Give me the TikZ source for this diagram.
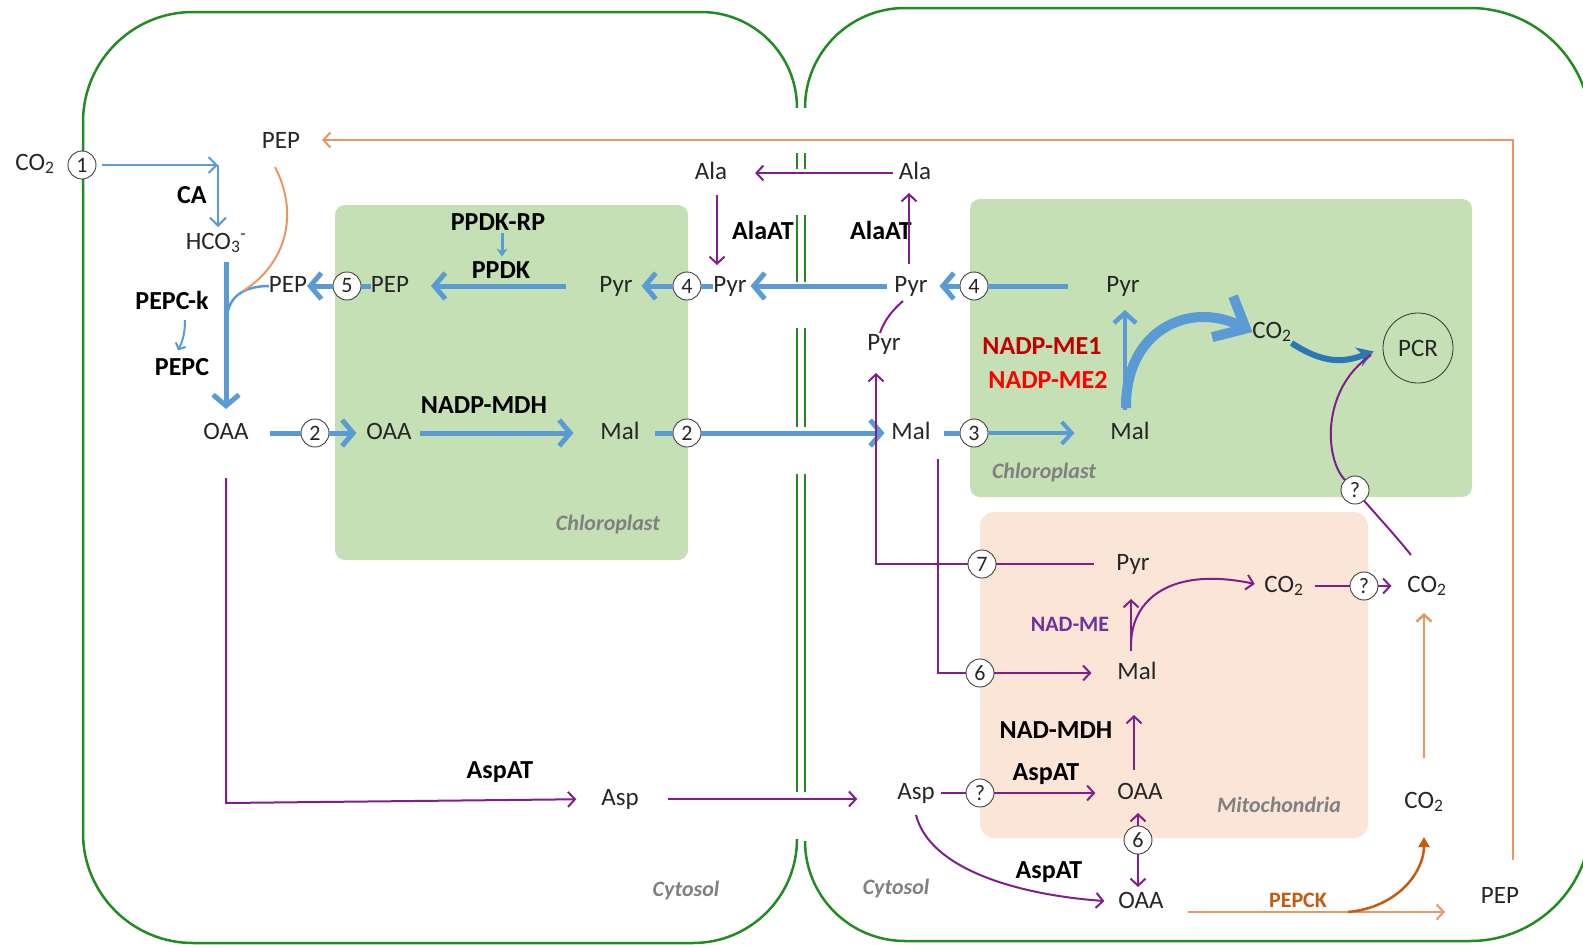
\documentclass[tikz,border=0pt]{standalone}
\usepackage{fontspec}
\setmainfont{Carlito}
\usetikzlibrary{arrows.meta}
\definecolor{cblue}{RGB}{91,155,213}
\definecolor{cdblue}{RGB}{46,117,182}
\definecolor{cpurp}{RGB}{128,30,140}
\definecolor{cpurpT}{RGB}{112,48,160}
\definecolor{corg}{RGB}{232,150,100}
\definecolor{cdorg}{RGB}{197,90,17}
\definecolor{cgreen}{RGB}{34,139,34}
\definecolor{chlfill}{RGB}{197,224,180}
\definecolor{mitfill}{RGB}{251,229,214}
\definecolor{cdred}{RGB}{192,0,0}
\definecolor{cred}{RGB}{255,0,0}
\definecolor{cgray}{RGB}{128,128,128}
\definecolor{ctext}{RGB}{38,38,38}
\begin{document}
\begin{tikzpicture}[x=1pt,y=-1pt,
  every node/.style={inner sep=0pt,outer sep=0pt},
  met/.style={font=\fontsize{25}{30}\selectfont,text=ctext,text height=17pt,text depth=5pt},
  enz/.style={font=\fontsize{26}{30}\selectfont\bfseries,text=black},
  comp/.style={font=\fontsize{22}{26}\selectfont\bfseries\itshape,text=cgray},
  num/.style={circle,draw=black!75,line width=0.9pt,fill=white,minimum size=28pt,font=\fontsize{22}{26}\selectfont,text=ctext},
  cell/.style={draw=cgreen,line width=2.5pt},
  memb/.style={draw=cgreen,line width=2pt},
  bl/.style={draw=cblue,line width=2pt},
  bla/.style={bl,-{Straight Barb[length=8pt,width=16pt]}},
  bk/.style={draw=cblue,line width=5pt},
  bka/.style={bk,-{Straight Barb[length=11pt,width=26pt]}},
  pl/.style={draw=cpurp,line width=2pt},
  pla/.style={pl,-{Straight Barb[length=7pt,width=15pt]}},
  ol/.style={draw=corg,line width=2pt},
  ola/.style={ol,-{Straight Barb[length=7pt,width=15pt]}},
]
\useasboundingbox (0,0) rectangle (1583,945);
\clip (0,0) rectangle (1583,945);

% compartments
\fill[chlfill,rounded corners=10pt] (335,205) rectangle (688,560);
\fill[chlfill,rounded corners=10pt] (970,199) rectangle (1472,497);
\fill[mitfill,rounded corners=14pt] (980,512) rectangle (1368,838);

% cells
\draw[cell] (797,108) arc[start angle=0,end angle=-90,radius=96]
  -- (193,12) arc[start angle=-90,end angle=-180,radius=110]
  -- (83,833) arc[start angle=180,end angle=90,radius=110]
  -- (693,943) arc[start angle=90,end angle=0,radius=104];
\draw[cell] (805,108) arc[start angle=180,end angle=270,radius=100]
  -- (1470,8) arc[start angle=-90,end angle=0,radius=121]
  -- (1591,820) arc[start angle=0,end angle=90,radius=121]
  -- (905,941) arc[start angle=90,end angle=180,radius=100];
\foreach \a/\b in {153/169,215/282,328/427,474/792}{
  \draw[memb] (797,\a) -- (797,\b);
  \draw[memb] (805,\a) -- (805,\b);
}

% nodes: left cell
\node[met] (co2a) at (35,164) {CO\textsubscript{2}};
\node[num] (n1) at (82,165) {1};
\node[enz] (ca) at (192,195) {CA};
\node[met] (hco3) at (216,243) {HCO\textsubscript{3}\textsuperscript{-}};
\node[met] (pepTop) at (281,142) {PEP};
\node[met] (pepL) at (288,286) {PEP};
\node[num] (n5) at (347,286) {5};
\node[met] (pepC) at (390,286) {PEP};
\node[enz] (pepck1) at (172,300) {PEPC-k};
\node[enz] (pepc) at (182,367) {PEPC};
\node[met] (oaaL) at (226,433) {OAA};
\node[num] (n2a) at (315,433) {2};
\node[met] (oaaC) at (389,433) {OAA};
\node[enz] (nadpmdh) at (484,405) {NADP-MDH};
\node[met] (malC) at (620,433) {Mal};
\node[num] (n2b) at (687,433) {2};
\node[enz] (ppdkrp) at (498,222) {PPDK-RP};
\node[enz] (ppdk) at (501,270) {PPDK};
\node[met] (pyrC) at (616,286) {Pyr};
\node[num] (n4a) at (687,286) {4};
\node[met] (pyrL) at (730,286) {Pyr};
\node[met] (alaL) at (711,173) {Ala};
\node[enz] (alaatL) at (763,230) {AlaAT};
\node[met] (aspL) at (620,799) {Asp};
\node[enz] (aspatL) at (500,772) {AspAT};
\node[comp] (chlL) at (608,525) {Chloroplast};
\node[comp] (cytL) at (686,891) {Cytosol};

% nodes: right cell
\node[met] (alaR) at (915,173) {Ala};
\node[enz] (alaatR) at (881,230) {AlaAT};
\node[met] (pyrR) at (911,286) {Pyr};
\node[num] (n4b) at (974,286) {4};
\node[met] (pyrCh) at (1123,286) {Pyr};
\node[met] (pyrLow) at (884,344) {Pyr};
\node[met] (malR) at (911,433) {Mal};
\node[num] (n3) at (974,433) {3};
\node[met] (malCh) at (1130,433) {Mal};
\node[enz,text=cdred] (me1) at (1042,346) {NADP-ME1};
\node[enz,text=cred] (me2) at (1048,380) {NADP-ME2};
\node[met] (co2Ch) at (1272,332) {CO\textsubscript{2}};
\node[met,circle,draw=black!80,line width=0.8pt,minimum size=70pt,text height=,text depth=] (pcr) at (1418,348) {PCR};
\node[comp] (chlR) at (1044,473) {Chloroplast};
\node[num] (nq3) at (1355,490) {?};
\node[met] (pyrM) at (1133,564) {Pyr};
\node[num] (n7) at (982,564) {7};
\node[met] (co2M) at (1284,586) {CO\textsubscript{2}};
\node[num] (nq1) at (1364,586) {?};
\node[met] (co2O) at (1427,586) {CO\textsubscript{2}};
\node[enz,text=cpurpT,font=\fontsize{22}{26}\selectfont\bfseries] (nadme) at (1070,624) {NAD-ME};
\node[met] (malM) at (1137,673) {Mal};
\node[num] (n6a) at (980,673) {6};
\node[enz] (nadmdh) at (1056,730) {NAD-MDH};
\node[enz] (aspatM) at (1046,774) {AspAT};
\node[met] (aspR) at (916,793) {Asp};
\node[num] (nq2) at (980,793) {?};
\node[met] (oaaM) at (1140,793) {OAA};
\node[num] (n6b) at (1138,840) {6};
\node[met] (oaaB) at (1141,902) {OAA};
\node[enz] (aspatB) at (1049,872) {AspAT};
\node[enz,text=cdorg,font=\fontsize{22}{26}\selectfont\bfseries] (pepckE) at (1298,900) {PEPCK};
\node[met] (co2B) at (1424,802) {CO\textsubscript{2}};
\node[met] (pepR) at (1500,897) {PEP};
\node[comp] (mito) at (1279,805) {Mitochondria};
\node[comp] (cytR) at (896,889) {Cytosol};

% coordinates
\coordinate (caC) at (218,165);
\coordinate (oTR) at (1513,140);
\coordinate (oBR) at (1513,860);
\coordinate (c7) at (876,564);
\coordinate (c6) at (938,673);
\coordinate (cAsp) at (226,803);
\coordinate (pk1) at (1188,912);
\coordinate (pk2) at (1445,912);
\coordinate (pkb) at (1348,912);

% left cell connectors
\draw[bla,shorten <=6pt] (n1.east) -- (caC);
\draw[bla,shorten >=5pt] (caC) -- (caC |- hco3.north);
\draw[bka,shorten <=8pt,shorten >=13pt] (oaaL.north |- hco3.south) -- (oaaL.north);
\draw[draw=cblue,line width=2.5pt] (pepL.west) .. controls (245,286) and (227,296) .. (227,320);
\draw[ol] ([xshift=-6pt,yshift=-14pt]pepTop.south) .. controls (300,215) and (285,265) .. (243,291);
\draw[ola,shorten >=22pt] (oBR) -- (oTR) -- (oTR -| pepTop.east);
\draw[bl,-{Straight Barb[length=5pt,width=11pt]}] ([xshift=13pt,yshift=-11pt]pepck1.south) .. controls (185,335) and (182,342) .. ([xshift=-4pt,yshift=8pt]pepc.north);
\draw[bk] (pepC.west) -- (n5.east);
\draw[bka] (n5.west) -- (pepL.east);
\draw[draw=cblue,line width=3pt,-{Stealth[length=8pt,width=11pt]},shorten <=3pt,shorten >=5pt] ([xshift=4pt]ppdkrp.south) -- ([xshift=4pt]ppdkrp.south |- ppdk.north);
\draw[bka,shorten <=33pt,shorten >=22pt] (pyrC.west) -- (pepC.east);
\draw[bk] (pyrL.west) -- (n4a.east);
\draw[bka,shorten >=9pt] (n4a.west) -- (pyrC.east);
\draw[bka,shorten <=7pt,shorten >=4pt] (pyrR.west) -- (pyrL.east);
\draw[bk,shorten <=21pt] (oaaL.east) -- (n2a.west);
\draw[bka,shorten >=10pt] (n2a.east) -- (oaaC.west);
\draw[bka,shorten <=8pt,shorten >=27pt] (oaaC.east) -- (malC.west);
\draw[bk,shorten <=15pt] (malC.east) -- (n2b.west);
\draw[bka,shorten >=7pt] (n2b.east) -- (malR.west);
\draw[pla,shorten <=6pt,shorten >=28pt] (alaR.west) -- (alaL.east);
\draw[pla,shorten <=11pt,shorten >=10pt] ([xshift=6pt]alaL.south) -- ([xshift=6pt]alaL.south |- pyrL.north);
\draw[pla,shorten <=11pt,shorten >=9pt] ([xshift=-2pt]pyrR.north) -- ([xshift=-2pt]pyrR.north |- alaR.south);
\draw[pla,shorten >=25pt] ([yshift=-34pt]oaaL.south) -- (cAsp) -- (aspL.west);
\draw[pla,shorten <=29pt,shorten >=40pt] (aspL.east) -- (aspL.east -| aspR.west);

% right cell connectors
\draw[bk,shorten <=38pt] (pyrCh.west) -- (n4b.east);
\draw[bka,shorten >=12pt] (n4b.west) -- (pyrR.east);
\draw[bk,shorten <=13pt] (malR.east) -- (n3.west);
\draw[draw=cblue,line width=4pt,-{Straight Barb[length=10pt,width=22pt]},shorten >=36pt] (n3.east) -- (malCh.west);
\draw[draw=cblue,line width=4.5pt,-{Straight Barb[length=10pt,width=22pt]},shorten <=12pt,shorten >=13pt] ([xshift=-5pt]malCh.north) -- ([xshift=-5pt]malCh.north |- pyrCh.south);
\draw[draw=cblue,line width=10pt,-{Straight Barb[length=26pt,width=46pt]}] (1126,408) .. controls (1125,330) and (1190,300) .. (co2Ch.west);
\draw[draw=cdblue,line width=6pt,-{Stealth[length=16pt,width=20pt,inset=5pt]},shorten >=10pt] (co2Ch.south east) .. controls (1325,365) and (1345,362) .. (pcr.west);
\draw[pl] ([xshift=-4pt]pyrLow.north) .. controls (885,318) and (895,308) .. ([xshift=-8pt,yshift=-4pt]pyrR.south);
\draw[pl,shorten <=22pt] (pyrM.west) -- (n7.east);
\draw[pla,shorten >=18pt] (n7.west) -- (c7) -- (c7 |- pyrLow.south);
\draw[pl,shorten <=15pt] (malR.south -| c6) -- (c6) -- (n6a.west);
\draw[pla,shorten >=26pt] (n6a.east) -- (malM.west);
\draw[pla] ([xshift=-6pt,yshift=11pt]malM.north) -- ++(0,-52);
\draw[pla,shorten >=10pt] ([xshift=-6pt,yshift=17pt]malM.north) .. controls (1131,600) and (1170,566) .. (co2M.west);
\draw[pl,shorten <=11pt] (co2M.east) -- (nq1.west);
\draw[pla,shorten >=16pt] (nq1.east) -- (co2O.west);
\draw[pla] ([xshift=-6pt,yshift=12pt]oaaM.north) -- ++(0,-55);
\draw[pl,shorten <=6pt] (aspR.east) -- (nq2.west);
\draw[pla,shorten >=22pt] (nq2.east) -- (oaaM.west);
\draw[pla,shorten >=9pt] (n6b.north) -- (n6b.north |- oaaM.south);
\draw[pla,shorten >=4pt] (n6b.south) -- (n6b.south |- oaaB.north);
\draw[pla,shorten >=14pt] ([yshift=-11pt]aspR.south) .. controls (930,870) and (1020,895) .. (oaaB.west);
\draw[ola] (pk1) -- (pk2);
\draw[draw=cdorg,line width=2.5pt,-{Triangle[length=10pt,width=11pt]},shorten >=24pt] (pkb) .. controls (1400,907) and (1424,870) .. (co2B.south);
\draw[ola,line width=2.5pt,shorten <=33pt,shorten >=16pt] (co2B.north) -- (co2B.north |- co2O.south);
\draw[pl] ([xshift=-16pt,yshift=20pt]co2O.north) .. controls (1395,535) and (1372,510) .. (nq3);
\draw[pl] (nq3) .. controls (1325,460) and (1320,390) .. ([xshift=-12pt,yshift=-7pt]pcr.west);
\end{tikzpicture}
\end{document}
